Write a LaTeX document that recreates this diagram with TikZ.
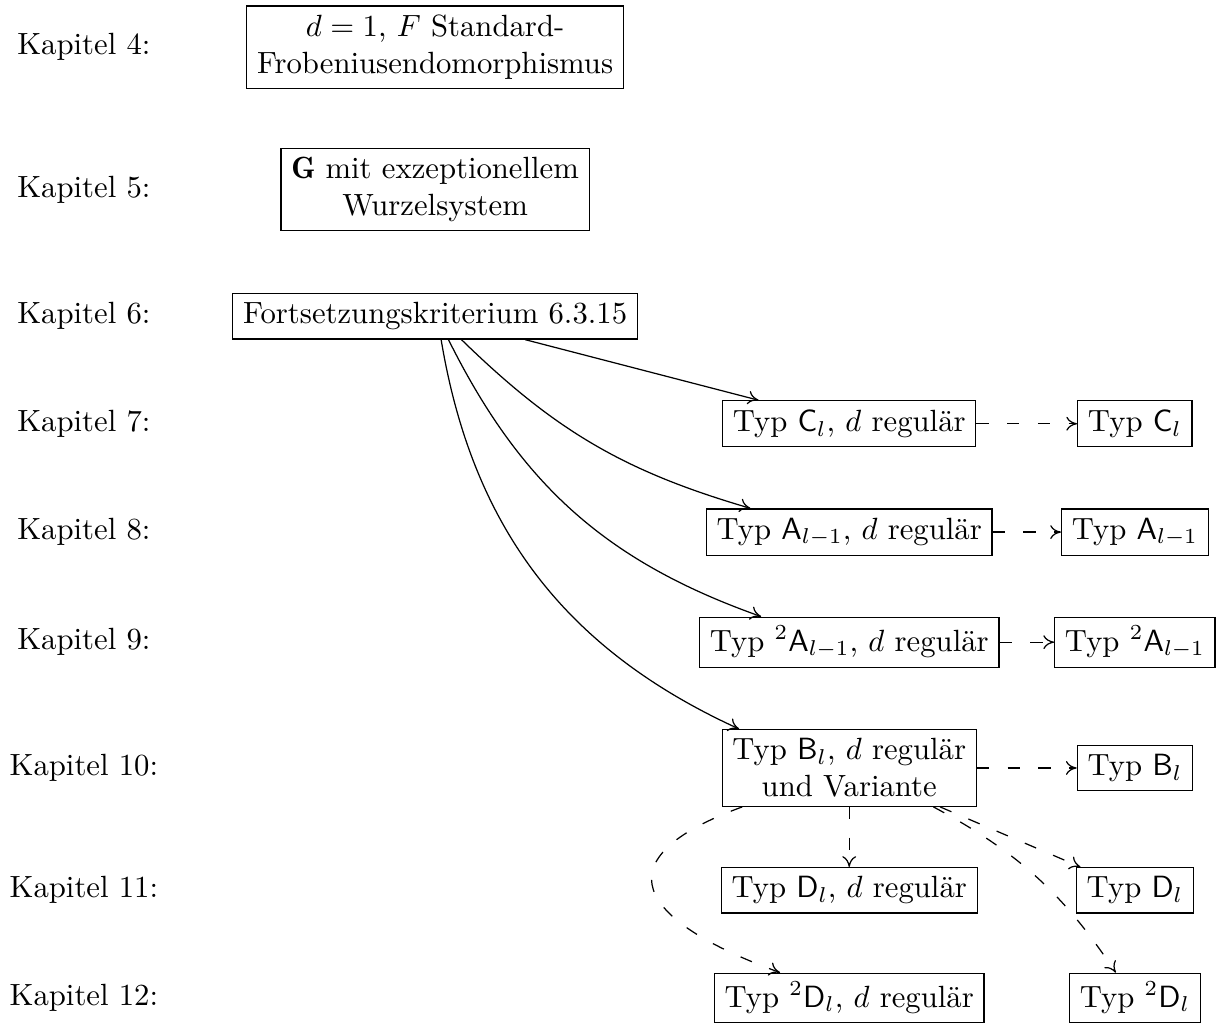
\documentclass[tikz,border=0pt]{standalone}
\usepackage{fontspec}
\usepackage{amsmath, amssymb}
\usepackage{tikz}
\usetikzlibrary{arrows.meta, positioning, calc}

\begin{document}
\begin{tikzpicture}
\tikzstyle{kapitel} = [text centered]
\tikzstyle{kasten} = [rectangle, draw=black, align=center, inner ysep=2.9pt]
\tikzstyle{arrow} = [-{To[length=3.5pt,width=4.5pt]}]
\tikzstyle{darrow} = [-{To[length=3.5pt,width=4.5pt]}, dash pattern=on 4pt off 6pt]

\useasboundingbox (0,0) rectangle (14.01,-11.71);

% Kapitel
\node (k4) [kapitel] at (0.96,-0.54) {Kapitel 4:};
\node (k5) [kapitel] at (0.96,-2.17) {Kapitel 5:};
\node (k6) [kapitel] at (0.96,-3.62) {Kapitel 6:};
\node (k7) [kapitel] at (0.96,-4.85) {Kapitel 7:};
\node (k8) [kapitel] at (0.96,-6.09) {Kapitel 8:};
\node (k9) [kapitel] at (0.96,-7.35) {Kapitel 9:};
\node (k10) [kapitel] at (0.96,-8.79) {Kapitel 10:};
\node (k11) [kapitel] at (0.96,-10.19) {Kapitel 11:};
\node (k12) [kapitel] at (0.96,-11.42) {Kapitel 12:};

% Faelle
\node (frob) [kasten] at (4.98,-0.54) {$d=1$, $F$ Standard-\\Frobeniusendomorphismus};
\node (exz) [kasten] at (4.98,-2.17) {$\mathbf{G}$ mit exzeptionellem\\Wurzelsystem};
\node (fk) [kasten] at (4.98,-3.62) {Fortsetzungskriterium 6.3.15};
\node (creg) [kasten] at (9.72,-4.85) {Typ $\mathsf{C}_l$, $d$ regulär};
\node (c) [kasten] at (12.99,-4.85) {Typ $\mathsf{C}_l$};
\node (areg) [kasten] at (9.72,-6.09) {Typ $\mathsf{A}_{l-1}$, $d$ regulär};
\node (a) [kasten] at (12.99,-6.09) {Typ $\mathsf{A}_{l-1}$};
\node (zareg) [kasten] at (9.72,-7.35) {Typ ${}^2\mathsf{A}_{l-1}$, $d$ regulär};
\node (za) [kasten] at (12.99,-7.35) {Typ ${}^2\mathsf{A}_{l-1}$};
\node (breg) [kasten] at (9.72,-8.79) {Typ $\mathsf{B}_l$, $d$ regulär\\und Variante};
\node (b) [kasten] at (12.99,-8.79) {Typ $\mathsf{B}_l$};
\node (dreg) [kasten] at (9.72,-10.19) {Typ $\mathsf{D}_l$, $d$ regulär};
\node (d) [kasten] at (12.99,-10.19) {Typ $\mathsf{D}_l$};
\node (zdreg) [kasten] at (9.72,-11.42) {Typ ${}^2\mathsf{D}_l$, $d$ regulär};
\node (zd) [kasten] at (12.99,-11.42) {Typ ${}^2\mathsf{D}_l$};

% Pfeile
\draw [arrow] (fk) -- (creg);
\draw [arrow] (fk) to[bend right=14] (areg);
\draw [arrow] (fk) to[bend right=22] (zareg);
\draw [arrow] (fk) to[bend right=28] (breg);
\draw [darrow] (creg) -- (c);
\draw [darrow] (areg) -- (a);
\draw [darrow] (zareg) -- (za);
\draw [darrow] (breg) -- (b);
\draw [darrow] (breg) -- (dreg);
\draw [darrow] (breg) -- (d);
\draw [darrow] (breg) to[out=200, in=160, looseness=2.3] (zdreg);
\draw [darrow] (breg) to[bend left=14] (zd);

\end{tikzpicture}
\end{document}
